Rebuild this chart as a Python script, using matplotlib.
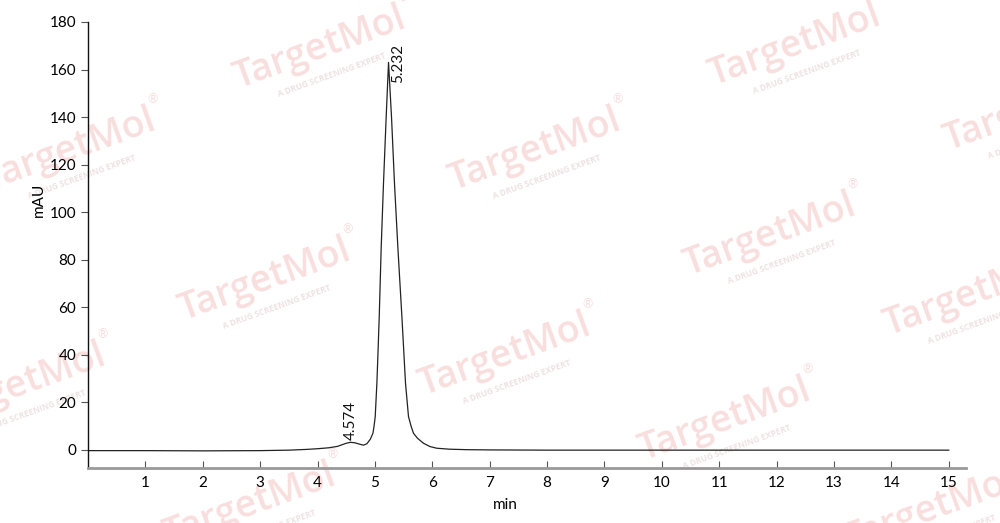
import matplotlib
matplotlib.use("Agg")
import matplotlib.pyplot as plt

# ---- data ----
time_min = [0.0, 1.0, 2.0, 3.0, 3.5, 3.8, 4.0, 4.2, 4.35, 4.5, 4.574, 4.65, 4.75,
            4.80, 4.86, 4.92, 4.965, 4.985, 5.005, 5.034, 5.055, 5.075, 5.109, 5.149, 5.196,
            5.237, 5.289, 5.341, 5.400, 5.470, 5.533, 5.585, 5.63, 5.672, 5.742, 5.846,
            5.96, 6.08, 6.3, 6.6, 7.0, 8.0, 10.0, 12.0, 15.0]
mau = [-0.3, -0.3, -0.4, -0.3, -0.1, 0.2, 0.5, 0.9, 1.5, 2.8, 3.2, 3.0, 2.3,
       2.0, 2.6, 4.5, 7.0, 10.0, 14.0, 28.0, 42.0, 56.0, 85.0, 112.0, 140.0,
       163.0, 140.0, 112.0, 85.0, 56.0, 28.0, 14.0, 10.0, 7.0, 4.9, 2.8,
       1.4, 0.7, 0.3, 0.1, 0.0, -0.1, -0.1, -0.1, -0.1]
label_times = [4.587, 5.405]
label_heights = [4.2, 154.5]
peak_labels = ["4.574", "5.232"]
x_ticks = list(range(1, 16))
y_ticks = list(range(0, 181, 20))

plt.rcParams['font.family'] = ['Lato', 'DejaVu Sans']

fig = plt.figure(figsize=(10, 5.23), dpi=100)
ax = fig.add_axes([0.088, 0.1052, 0.878, 0.8528])
ax.set_facecolor('none')

# watermarks (behind)
wm_centers = [(320, 48), (795, 45), (70, 150), (535, 150), (1030, 110),
              (265, 280), (770, 235), (20, 385), (505, 355), (970, 295),
              (725, 420), (250, 505), (930, 510)]
for (px, py) in wm_centers:
    fx, fy = px / 1000, 1 - py / 523
    fig.text(fx, fy, "TargetMol", fontsize=27, fontweight='semibold', color='#f9dede',
             rotation=20, ha='center', va='center', zorder=-5,
             family=['Open Sans', 'DejaVu Sans'])
    fig.text(fx + 0.012, fy - 0.052, "A DRUG SCREENING EXPERT", fontsize=6,
             fontweight='bold', color='#eee2e2', rotation=20, ha='center', va='center',
             zorder=-5, family=['Open Sans', 'DejaVu Sans'])
    fig.text(fx + 0.083, fy + 0.098, "\u00ae", fontsize=9, color='#f9dede',
             ha='center', va='center', zorder=-5)

ax.plot(time_min, mau, color='#222222', linewidth=0.9)

for t, h, lab in zip(label_times, label_heights, peak_labels):
    ax.text(t, h, lab, rotation=90, ha='center', va='bottom', fontsize=11,
            color='#111111')

ax.set_xlim(0, 15.3)
ax.set_ylim(-7.6, 180)
ax.set_xticks(x_ticks)
ax.set_yticks(y_ticks)
ax.tick_params(axis='x', direction='in', length=5, color='#555555', labelsize=11, pad=6)
ax.tick_params(axis='y', direction='out', length=5, color='#555555', labelsize=11)

for s in ['top', 'right']:
    ax.spines[s].set_visible(False)
ax.spines['left'].set_color('#111111')
ax.spines['left'].set_linewidth(1.0)
ax.spines['bottom'].set_color('#999999')
ax.spines['bottom'].set_linewidth(2.0)

ax.set_xlabel("min", fontsize=11)
ax.set_ylabel("mAU", fontsize=11)
ax.xaxis.set_label_coords(0.475, -0.068)
ax.yaxis.set_label_coords(-0.048, 0.6)

fig.savefig("out.png", dpi=100)
